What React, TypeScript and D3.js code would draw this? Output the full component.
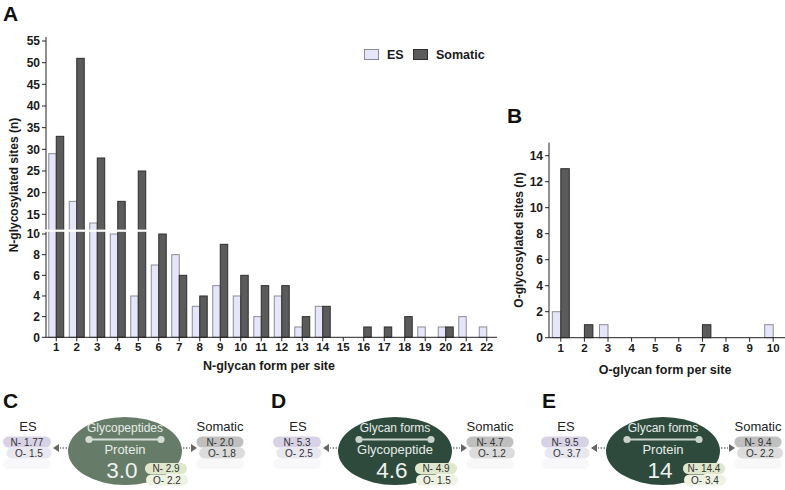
import React from "react";
import * as d3 from "d3";

const nForms = d3.range(1, 23);
const nES = [29, 18, 13, 10, 4, 7, 8, 3, 5, 4, 2, 4, 1, 3, 0, 0, 0, 0, 1, 1, 2, 1];
const nSom = [33, 51, 28, 18, 25, 10, 6, 4, 9, 6, 5, 5, 2, 3, 0, 1, 1, 2, 0, 1, 0, 0];
const nTicksLower = [0, 2, 4, 6, 8, 10];
const nTicksUpper = [15, 20, 25, 30, 35, 40, 45, 50, 55];

const oForms = d3.range(1, 11);
const oES = [2, 0, 1, 0, 0, 0, 0, 0, 0, 1];
const oSom = [13, 1, 0, 0, 0, 0, 1, 0, 0, 0];
const oTicks = [0, 2, 4, 6, 8, 10, 12, 14];

const diagLetters = ["C", "D", "E"];
const diagTop = ["Glycopeptides", "Glycan forms", "Glycan forms"];
const diagMid = ["Protein", "Glycopeptide", "Protein"];
const diagValue = ["3.0", "4.6", "14"];
const diagEsN = ["1.77", "5.3", "9.5"];
const diagEsO = ["1.5", "2.5", "3.7"];
const diagSomN = ["2.0", "4.7", "9.4"];
const diagSomO = ["1.8", "1.2", "2.2"];
const diagBothN = ["2.9", "4.9", "14.4"];
const diagBothO = ["2.2", "1.5", "3.4"];

const FONT = "'Liberation Sans', Arial, sans-serif";
const ES_FILL = "#e6e6fa";
const ES_STROKE = "#8c8c96";
const SOM_FILL = "#5b5b5b";
const SOM_STROKE = "#2e2e2e";
const AXIS = "#222";

function Pill({ cx, cy, w, fill, text }: { cx: number; cy: number; w: number; fill: string; text: string }) {
  return (
    <g>
      <rect x={cx - w / 2} y={cy - 5.5} width={w} height={11} rx={5.5} fill={fill} />
      <text x={cx} y={cy + 3.5} textAnchor="middle" fontSize={10} fill="#333" fontFamily={FONT}>
        {text}
      </text>
    </g>
  );
}

function Diagram({ i, cx, lx, dark }: { i: number; cx: number; lx: number; dark: boolean }) {
  const cy = 451;
  const rx = 57;
  const ry = 34;
  const fill = dark ? "#2e4a3d" : "#667c68";
  const lineCol = dark ? "#c9d2cc" : "#d6ddd6";
  const esX = cx - 98;
  const somX = cx + 95;
  const bx = cx + 41;
  return (
    <g fontFamily={FONT}>
      <text x={lx} y={408} fontSize={21} fontWeight="bold" fill="#111">
        {diagLetters[i]}
      </text>
      {/* faint shadow pills */}
      <rect x={esX - 24} y={459} width={48} height={10} rx={5} fill="#f8f8fa" />
      <rect x={somX - 24} y={459} width={48} height={10} rx={5} fill="#f8f8f8" />
      <ellipse cx={cx} cy={cy} rx={rx} ry={ry} fill={fill} />
      <text x={cx} y={432} textAnchor="middle" fontSize={12} fill="#e6ece8">
        {diagTop[i]}
      </text>
      <line x1={cx - 36} x2={cx + 36} y1={439.5} y2={439.5} stroke={lineCol} strokeWidth={2} />
      <circle cx={cx - 36} cy={439.5} r={3.6} fill={lineCol} />
      <circle cx={cx + 36} cy={439.5} r={3.6} fill={lineCol} />
      <text x={cx} y={453.5} textAnchor="middle" fontSize={13} fill="#e6ece8">
        {diagMid[i]}
      </text>
      <text x={cx - 3} y={478} textAnchor="middle" fontSize={22.5} fill="#eef2ef">
        {diagValue[i]}
      </text>
      {/* ES side */}
      <text x={esX + 1} y={431} textAnchor="middle" fontSize={13} fill="#222">
        ES
      </text>
      <Pill cx={esX} cy={442} w={48} fill="#d8d2e6" text={`N- ${diagEsN[i]}`} />
      <Pill cx={esX + 2} cy={453} w={45} fill="#e9e7ef" text={`O- ${diagEsO[i]}`} />
      {/* Somatic side */}
      <text x={somX} y={431} textAnchor="middle" fontSize={13} fill="#222">
        Somatic
      </text>
      <Pill cx={somX} cy={442} w={47} fill="#bfbfbf" text={`N- ${diagSomN[i]}`} />
      <Pill cx={somX + 2} cy={453} w={46} fill="#dcdcdc" text={`O- ${diagSomO[i]}`} />
      {/* arrows */}
      <line x1={cx - rx - 1} x2={cx - rx - 8} y1={cy - 3} y2={cy - 3} stroke="#777" strokeWidth={1.5} strokeDasharray="1.5,1.5" />
      <path d={`M${cx - rx - 15},${cy - 3} L${cx - rx - 9},${cy - 7} L${cx - rx - 9},${cy + 1} Z`} fill="#666" />
      <line x1={cx + rx + 1} x2={cx + rx + 8} y1={cy - 3} y2={cy - 3} stroke="#777" strokeWidth={1.5} strokeDasharray="1.5,1.5" />
      <path d={`M${cx + rx + 15},${cy - 3} L${cx + rx + 9},${cy - 7} L${cx + rx + 9},${cy + 1} Z`} fill="#666" />
      {/* both pills */}
      <Pill cx={bx} cy={468.5} w={42} fill="#dfe8cd" text={`N- ${diagBothN[i]}`} />
      <Pill cx={bx + 1} cy={480} w={42} fill="#edf2e3" text={`O- ${diagBothO[i]}`} />
    </g>
  );
}

export default function App() {
  // Panel A scales
  const xA = d3.scaleBand<number>().domain(nForms).range([46, 497]);
  const yLow = d3.scaleLinear().domain([0, 10]).range([337.3, 234]);
  const yUp = d3.scaleLinear().domain([10, 55]).range([236, 41]);
  const yA = (v: number) => (v <= 10 ? yLow(v) : yUp(v));
  const bwA = xA.bandwidth() * 0.365;
  const baseA = yLow(0);

  // Panel B scales
  const xB = d3.scaleBand<number>().domain(oForms).range([549, 785]);
  const yB = d3.scaleLinear().domain([0, 15]).range([337.7, 142.7]);
  const bwB = xB.bandwidth() * 0.36;
  const baseB = yB(0);

  const tickFont = { fontFamily: FONT, fontWeight: "bold" as const, fill: "#1a1a1a" };

  return (
    <svg width={785} height={490} style={{ position: "absolute", left: 0, top: 0, background: "#fff" }}>
      <rect width={785} height={490} fill="#fff" />
      {/* Panel A */}
      <text x={3} y={21} fontSize={21} fontWeight="bold" fontFamily={FONT} fill="#111">
        A
      </text>
      <g>
        {nForms.map((f, i) => {
          const c = xA(f)! + xA.bandwidth() / 2;
          return (
            <g key={f}>
              {nES[i] > 0 && (
                <rect x={c - bwA} y={yA(nES[i])} width={bwA} height={baseA - yA(nES[i])} fill={ES_FILL} stroke={ES_STROKE} strokeWidth={1} />
              )}
              {nSom[i] > 0 && (
                <rect x={c} y={yA(nSom[i])} width={bwA} height={baseA - yA(nSom[i])} fill={SOM_FILL} stroke={SOM_STROKE} strokeWidth={1} />
              )}
            </g>
          );
        })}
        {/* y axis */}
        <line x1={46} x2={46} y1={37} y2={baseA} stroke={AXIS} strokeWidth={1} />
        {nTicksLower.map((t) => (
          <g key={"l" + t}>
            <line x1={42} x2={46} y1={yLow(t)} y2={yLow(t)} stroke={AXIS} />
            <text x={40} y={yLow(t) + 4.2} textAnchor="end" fontSize={12} {...tickFont}>
              {t}
            </text>
          </g>
        ))}
        {nTicksUpper.map((t) => (
          <g key={"u" + t}>
            <line x1={42} x2={46} y1={yUp(t)} y2={yUp(t)} stroke={AXIS} />
            <text x={40} y={yUp(t) + 4.2} textAnchor="end" fontSize={12} {...tickFont}>
              {t}
            </text>
          </g>
        ))}
        {/* axis break */}
        <rect x={38} y={229.6} width={112} height={2.2} fill="#fff" />
        {/* x axis */}
        <line x1={46} x2={497} y1={baseA} y2={baseA} stroke={AXIS} />
        {nForms.map((f) => {
          const c = xA(f)! + xA.bandwidth() / 2;
          return (
            <g key={"xt" + f}>
              <line x1={c} x2={c} y1={baseA} y2={baseA + 4} stroke={AXIS} />
              <text x={c} y={baseA + 14} textAnchor="middle" fontSize={11.5} {...tickFont}>
                {f}
              </text>
            </g>
          );
        })}
        <text x={269} y={370} textAnchor="middle" fontSize={12.5} {...tickFont}>
          N-glycan form per site
        </text>
        <text transform="translate(18,185) rotate(-90)" textAnchor="middle" fontSize={12} {...tickFont}>
          N-glycosylated sites (n)
        </text>
        {/* legend */}
        <rect x={364.5} y={49.5} width={14} height={10} fill={ES_FILL} stroke={ES_STROKE} />
        <text x={387} y={59} fontSize={12.5} {...tickFont}>
          ES
        </text>
        <rect x={413.5} y={49.5} width={14} height={10} fill={SOM_FILL} stroke={SOM_STROKE} />
        <text x={436} y={59} fontSize={12.5} {...tickFont}>
          Somatic
        </text>
      </g>

      {/* Panel B */}
      <text x={507} y={123} fontSize={21} fontWeight="bold" fontFamily={FONT} fill="#111">
        B
      </text>
      <g>
        {oForms.map((f, i) => {
          const c = xB(f)! + xB.bandwidth() / 2;
          return (
            <g key={f}>
              {oES[i] > 0 && (
                <rect x={c - bwB} y={yB(oES[i])} width={bwB} height={baseB - yB(oES[i])} fill={ES_FILL} stroke={ES_STROKE} />
              )}
              {oSom[i] > 0 && (
                <rect x={c} y={yB(oSom[i])} width={bwB} height={baseB - yB(oSom[i])} fill={SOM_FILL} stroke={SOM_STROKE} />
              )}
            </g>
          );
        })}
        <line x1={549} x2={549} y1={yB(15)} y2={baseB} stroke={AXIS} />
        {oTicks.map((t) => (
          <g key={"o" + t}>
            <line x1={545} x2={549} y1={yB(t)} y2={yB(t)} stroke={AXIS} />
            <text x={543} y={yB(t) + 4.2} textAnchor="end" fontSize={12} {...tickFont}>
              {t}
            </text>
          </g>
        ))}
        <line x1={549} x2={785} y1={baseB} y2={baseB} stroke={AXIS} />
        {oForms.map((f) => {
          const c = xB(f)! + xB.bandwidth() / 2;
          return (
            <g key={"ot" + f}>
              <line x1={c} x2={c} y1={baseB} y2={baseB + 4} stroke={AXIS} />
              <text x={c} y={baseB + 14} textAnchor="middle" fontSize={11.5} {...tickFont}>
                {f}
              </text>
            </g>
          );
        })}
        <text x={665} y={374} textAnchor="middle" fontSize={12.5} {...tickFont}>
          O-glycan form per site
        </text>
        <text transform="translate(523,240) rotate(-90)" textAnchor="middle" fontSize={12} {...tickFont}>
          O-glycosylated sites (n)
        </text>
      </g>

      {/* Panels C, D, E */}
      <Diagram i={0} cx={125} lx={3} dark={false} />
      <Diagram i={1} cx={395} lx={271} dark={true} />
      <Diagram i={2} cx={663} lx={542} dark={true} />
    </svg>
  );
}
